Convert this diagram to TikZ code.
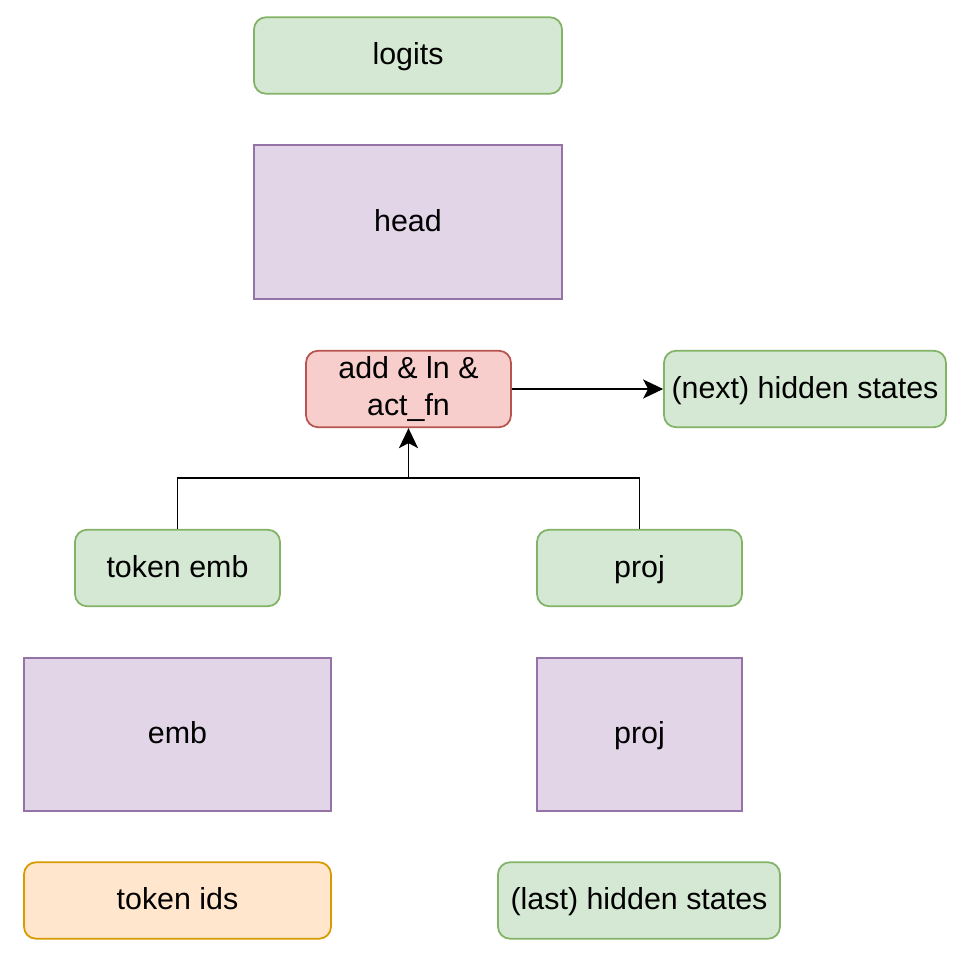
\documentclass[tikz,border=0pt]{standalone}
\usepackage{fontspec}
\setmainfont{Liberation Sans}
\usetikzlibrary{arrows.meta}
\definecolor{greenfill}{HTML}{D5E8D4}
\definecolor{greenline}{HTML}{82B366}
\definecolor{purplefill}{HTML}{E1D5E7}
\definecolor{purpleline}{HTML}{9673A6}
\definecolor{redfill}{HTML}{F8CECC}
\definecolor{redline}{HTML}{B85450}
\definecolor{orangefill}{HTML}{FFE6CC}
\definecolor{orangeline}{HTML}{D79B00}
\tikzset{
  box/.style={draw, line width=1pt, inner sep=0pt, align=center,
    text height=13.5pt, text depth=3pt,
    font=\fontsize{17.3}{20.5}\selectfont},
  tensor/.style={box, rounded corners=0.24cm, fill=greenfill, draw=greenline,
    minimum height=1.53cm},
  layer/.style={box, fill=purplefill, draw=purpleline, minimum height=3.07cm},
  link/.style={line width=1.1pt, -{Stealth[length=0.4cm, width=0.38cm, inset=0.1cm]}}
}
\begin{document}
\begin{tikzpicture}[x=0.02cm, y=-0.02cm]
    \useasboundingbox (0,0) rectangle (966,968);
    % top
    \node [tensor, minimum width=6.16cm] (logits) at (408,55.5) {logits};
    \node [layer, minimum width=6.16cm] (head) at (408,222) {head};
    % middle
    \node [tensor, fill=redfill, draw=redline, minimum width=4.1cm,
      text height=, text depth=] (add) at (408.5,389) {add \& ln \&\\act\_fn};
    \node [tensor, minimum width=5.64cm] (next) at (805,389) {(next) hidden states};
    \node [tensor, minimum width=4.1cm] (tokemb) at (177.5,568) {token emb};
    \node [tensor, minimum width=4.1cm] (projout) at (639.5,568) {proj};
    % bottom
    \node [layer, minimum width=6.14cm] (emb) at (177.5,734.5) {emb};
    \node [layer, minimum width=4.1cm] (proj) at (639.5,734.5) {proj};
    \node [tensor, fill=orangefill, draw=orangeline, minimum width=6.14cm] (tokids) at (177.5,900.5) {token ids};
    \node [tensor, minimum width=5.64cm] (last) at (639,900.5) {(last) hidden states};
    % connectors
    \coordinate (join) at (408.5,478);
    \draw [line width=1.1pt] (tokemb.north) |- (join) -| (projout.north);
    \draw [link] (join) -- (add.south);
    \draw [link] (add.east) -- (next.west);
\end{tikzpicture}
\end{document}
